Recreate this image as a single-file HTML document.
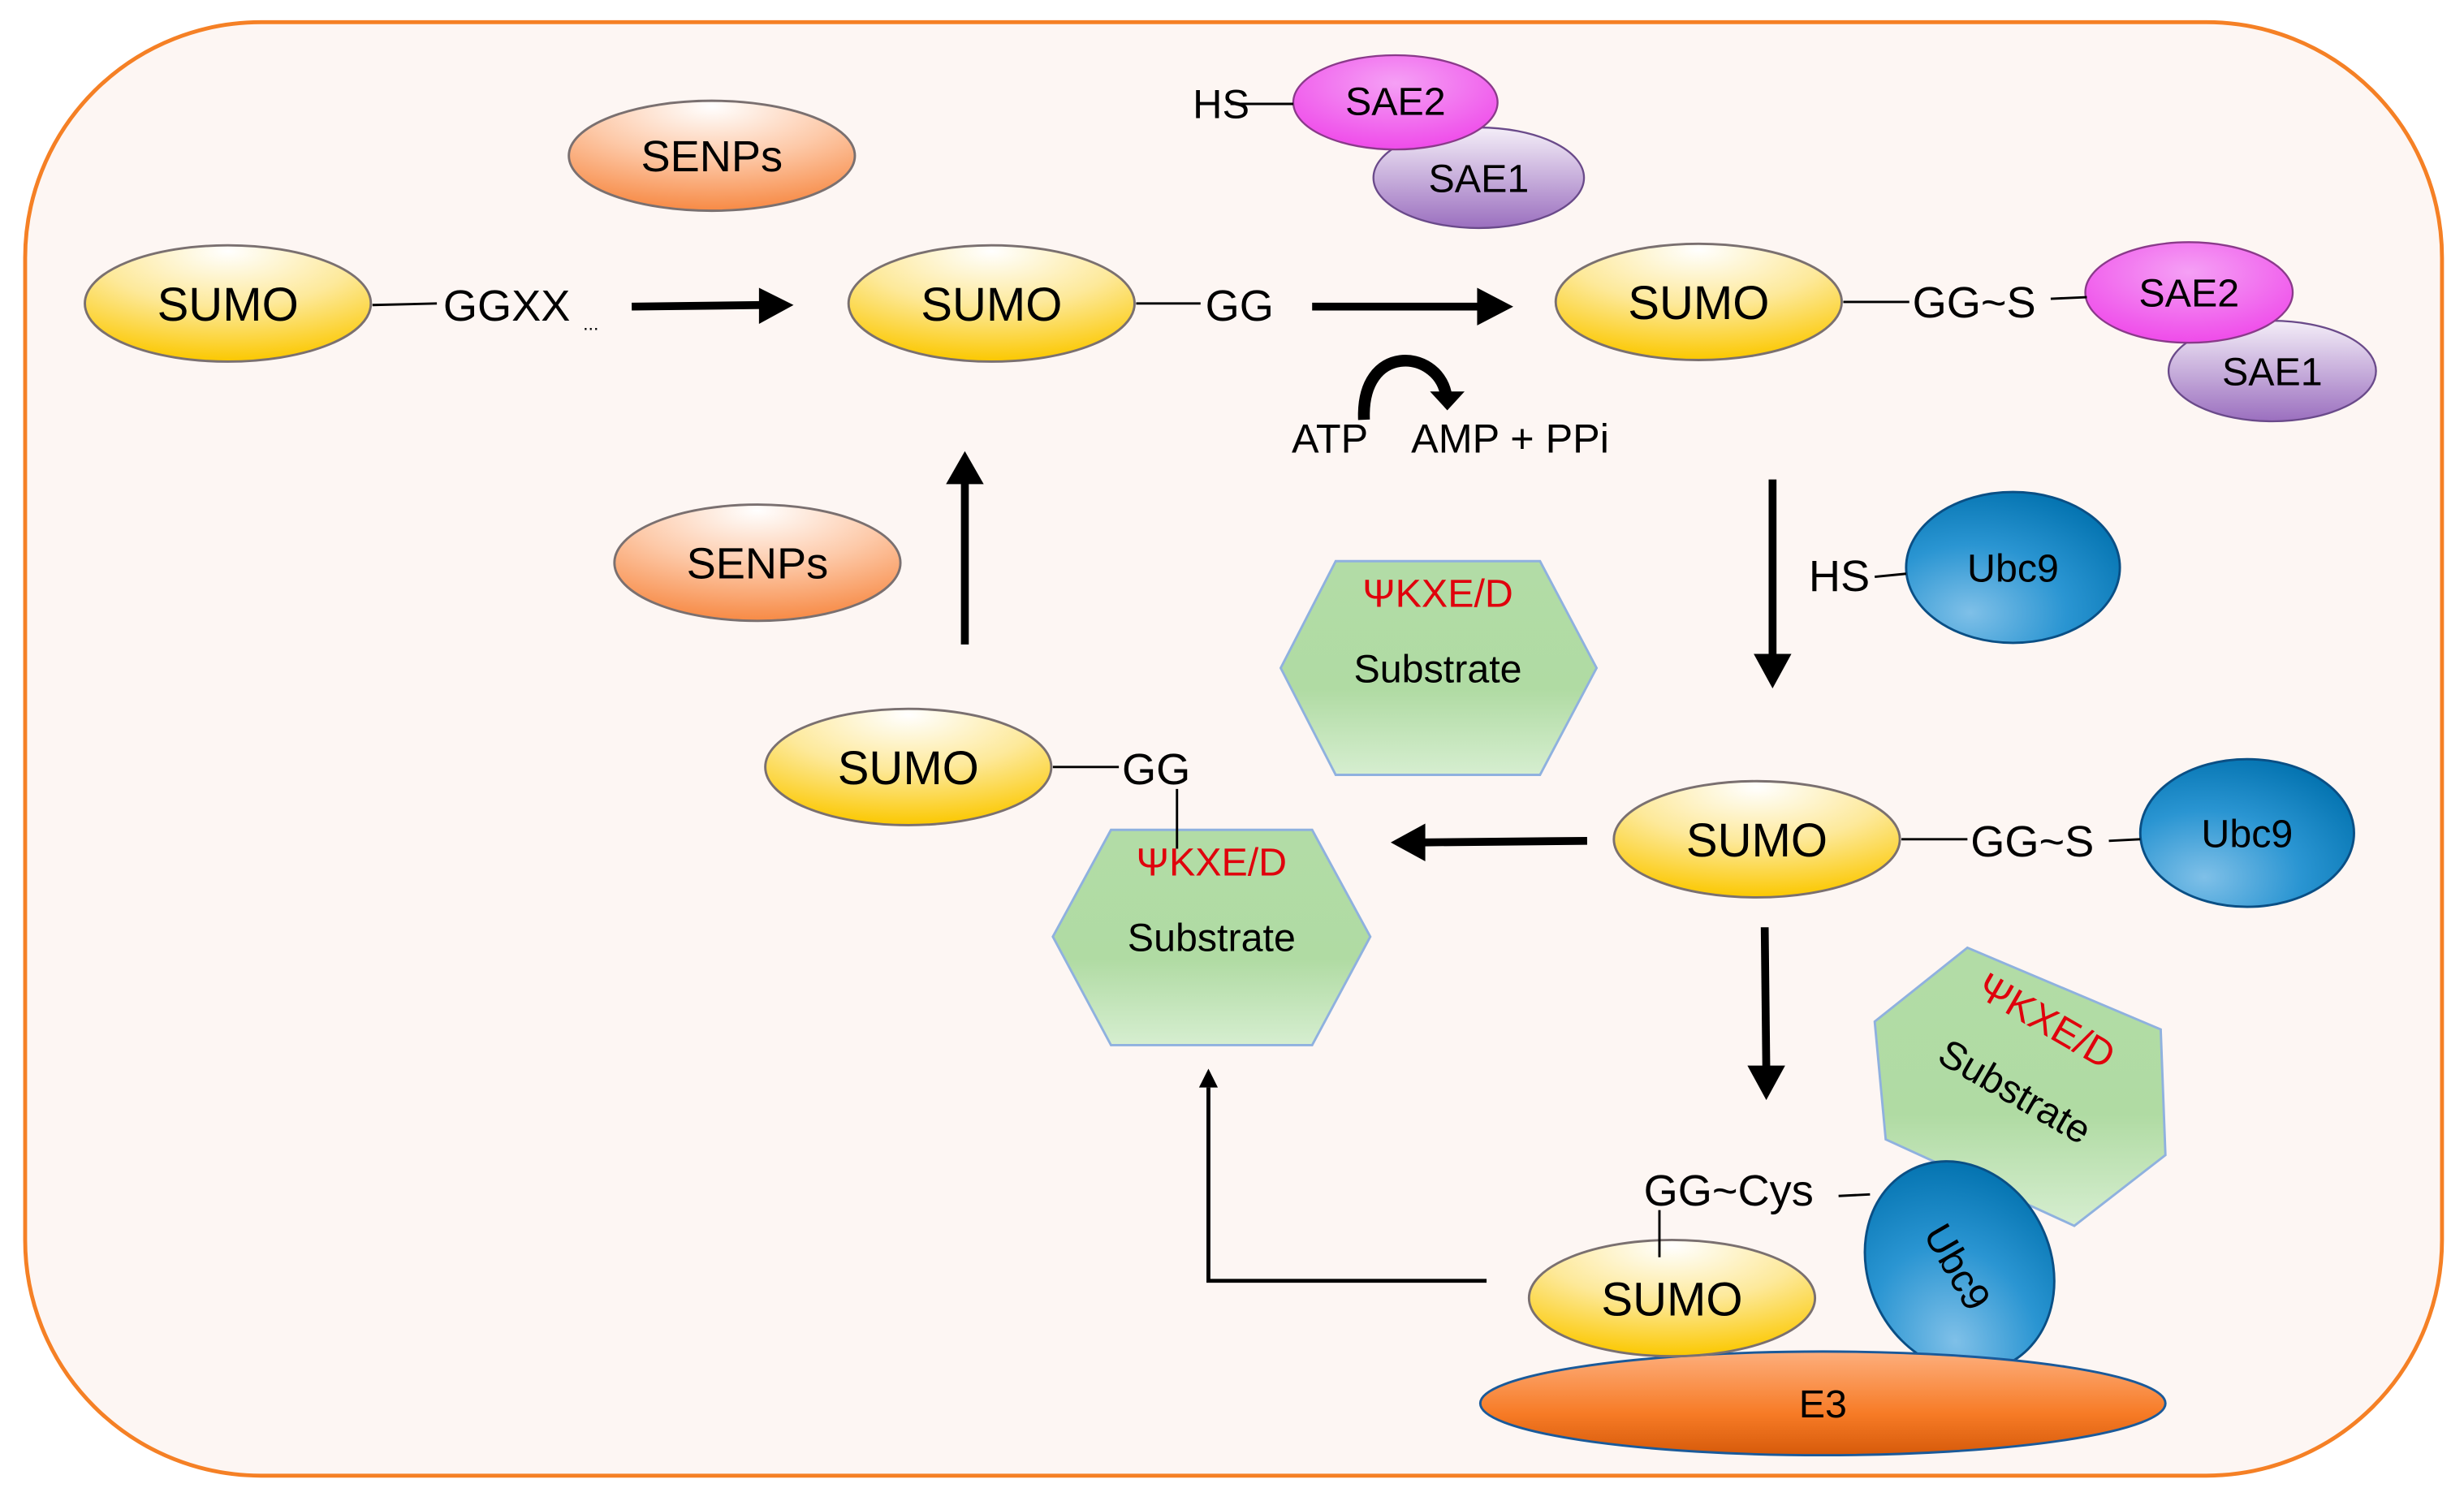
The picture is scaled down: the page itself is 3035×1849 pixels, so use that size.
<!DOCTYPE html>
<html><head><meta charset="utf-8"><style>html,body{margin:0;padding:0;background:#fff}svg{display:block}</style></head><body>
<svg width="3035" height="1849" viewBox="0 0 1568 955" xmlns="http://www.w3.org/2000/svg" font-family="'Liberation Sans', sans-serif">
<defs>
<radialGradient id="sumo" cx="0.5" cy="0.1" r="0.9" fx="0.5" fy="0.05"><stop offset="0" stop-color="#ffffff"/><stop offset="0.5" stop-color="#fde99a"/><stop offset="1" stop-color="#fbc800"/></radialGradient>
<radialGradient id="senp" cx="0.5" cy="0.1" r="0.9" fx="0.5" fy="0.05"><stop offset="0" stop-color="#ffffff"/><stop offset="0.5" stop-color="#fdc9a8"/><stop offset="1" stop-color="#f78a45"/></radialGradient>
<radialGradient id="sae2" cx="0.5" cy="0.3" r="0.8"><stop offset="0" stop-color="#f5a0f5"/><stop offset="1" stop-color="#ee3fe8"/></radialGradient>
<linearGradient id="sae1" x1="0" y1="0" x2="0" y2="1"><stop offset="0" stop-color="#f4eef8"/><stop offset="1" stop-color="#9b6fbf"/></linearGradient>
<radialGradient id="ubc" cx="0.3" cy="0.8" r="0.9"><stop offset="0" stop-color="#7fc0e8"/><stop offset="0.5" stop-color="#2a95d2"/><stop offset="1" stop-color="#0070ad"/></radialGradient>
<linearGradient id="hex" x1="0" y1="0" x2="0" y2="1"><stop offset="0" stop-color="#b2dca6"/><stop offset="0.6" stop-color="#b0dba3"/><stop offset="1" stop-color="#d6eed0"/></linearGradient>
<linearGradient id="e3" x1="0" y1="0" x2="0" y2="1"><stop offset="0" stop-color="#fdae7c"/><stop offset="0.6" stop-color="#f77b26"/><stop offset="1" stop-color="#d65a0a"/></linearGradient>
</defs>
<rect x="16" y="14" width="1538" height="925" rx="150" ry="150" fill="#fdf6f3" stroke="#f58025" stroke-width="2.5"/>
<g stroke="#7a7070" stroke-width="1.5">
<ellipse cx="453" cy="99" rx="91" ry="35" fill="url(#senp)"/>
<ellipse cx="482" cy="358" rx="91" ry="37" fill="url(#senp)"/>
<ellipse cx="145" cy="193" rx="91" ry="37" fill="url(#sumo)"/>
<ellipse cx="631" cy="193" rx="91" ry="37" fill="url(#sumo)"/>
<ellipse cx="1081" cy="192" rx="91" ry="37" fill="url(#sumo)"/>
<ellipse cx="578" cy="488" rx="91" ry="37" fill="url(#sumo)"/>
<ellipse cx="1118" cy="534" rx="91" ry="37" fill="url(#sumo)"/>
</g>
<g stroke="#6a4a8a" stroke-width="1.2">
<ellipse cx="941" cy="113" rx="67" ry="32" fill="url(#sae1)"/>
<ellipse cx="888" cy="65" rx="65" ry="30" fill="url(#sae2)" stroke="#8a3a8a"/>
<ellipse cx="1446" cy="236" rx="66" ry="32" fill="url(#sae1)"/>
<ellipse cx="1393" cy="186" rx="66" ry="32" fill="url(#sae2)" stroke="#8a3a8a"/>
</g>
<g stroke="#0a4f85" stroke-width="1.5" fill="url(#ubc)">
<ellipse cx="1281" cy="361" rx="68" ry="48"/>
<ellipse cx="1430" cy="530" rx="68" ry="47"/>
</g>
<g fill="url(#hex)" stroke="#8fb1df" stroke-width="1.5">
<polygon points="815,425 850,357 980,357 1016,425 980,493 850,493"/>
<polygon points="670,596 707,528 835,528 872,596 835,665 707,665"/>
<polygon points="1252,603 1375,655 1378,735 1320,780 1200,725 1193,650"/>
</g>
<ellipse cx="1247" cy="806" rx="58" ry="69" transform="rotate(-26 1247 806)" fill="url(#ubc)" stroke="#0a4f85" stroke-width="1.5"/>
<ellipse cx="1160" cy="893" rx="218" ry="33" fill="url(#e3)" stroke="#1a5a9a" stroke-width="1.5"/>
<ellipse cx="1064" cy="826" rx="91" ry="37" fill="url(#sumo)" stroke="#7a7070" stroke-width="1.5"/>
<g stroke="#000" stroke-width="1.5">
<line x1="237" y1="194" x2="278" y2="193"/>
<line x1="723" y1="193" x2="764" y2="193"/>
<line x1="1173" y1="192" x2="1215" y2="192"/>
<line x1="1305" y1="190" x2="1328" y2="189"/>
<line x1="783" y1="66" x2="823" y2="66"/>
<line x1="1193" y1="367" x2="1213" y2="365"/>
<line x1="670" y1="488" x2="712" y2="488"/>
<line x1="749" y1="502" x2="749" y2="540"/>
<line x1="1210" y1="534" x2="1252" y2="534"/>
<line x1="1342" y1="535" x2="1362" y2="534"/>
<line x1="1056" y1="770" x2="1056" y2="800"/>
<line x1="1170" y1="761" x2="1190" y2="760"/>
</g>
<g stroke="#000" stroke-width="5" fill="none">
<line x1="402" y1="195" x2="485" y2="194"/>
<line x1="835" y1="195" x2="942" y2="195"/>
<line x1="1128" y1="305" x2="1128" y2="418"/>
<line x1="614" y1="410" x2="614" y2="305"/>
<line x1="1010" y1="535" x2="905" y2="536"/>
<line x1="1123" y1="590" x2="1124" y2="680"/>
<path d="M868,267 C866,218 914,222 920,250" stroke-width="7.5"/>
</g>
<g stroke="#000" stroke-width="2.5" fill="none"><polyline points="946,815 769,815 769,692"/></g>
<g fill="#000">
<polygon points="483,183 505,194 483,206"/>
<polygon points="940,183 963,195 940,207"/>
<polygon points="1116,416 1128,438 1140,416"/>
<polygon points="602,308 614,287 626,308"/>
<polygon points="907,524 885,536 907,548"/>
<polygon points="1112,678 1124,700 1136,678"/>
<polygon points="910,249 932,249 921,261"/>
<polygon points="763,692 769,680 775,692"/>
</g>
<g font-size="30" fill="#000" text-anchor="middle">
<text x="145" y="204">SUMO</text>
<text x="631" y="204">SUMO</text>
<text x="1081" y="203">SUMO</text>
<text x="578" y="499">SUMO</text>
<text x="1118" y="545">SUMO</text>
<text x="1064" y="837">SUMO</text>
<text x="453" y="109" font-size="28">SENPs</text>
<text x="482" y="368" font-size="28">SENPs</text>
</g>
<g font-size="28" fill="#000">
<text x="282" y="204">GGXX</text>
<text x="371" y="210" font-size="12">...</text>
<text x="767" y="204">GG</text>
<text x="1217" y="202">GG~S</text>
<text x="714" y="499">GG</text>
<text x="1254" y="545">GG~S</text>
<text x="1046" y="767">GG~Cys</text>
<text x="759" y="75" font-size="26">HS</text>
<text x="1151" y="376" font-size="28">HS</text>
<text x="822" y="288" font-size="26">ATP</text>
<text x="898" y="288" font-size="26">AMP + PPi</text>
</g>
<g font-size="25" fill="#000" text-anchor="middle">
<text x="888" y="73">SAE2</text>
<text x="941" y="122">SAE1</text>
<text x="1393" y="195">SAE2</text>
<text x="1446" y="245">SAE1</text>
<text x="1281" y="370">Ubc9</text>
<text x="1430" y="539">Ubc9</text>
<text x="915" y="434">Substrate</text>
<text x="771" y="605">Substrate</text>
<text x="1160" y="902">E3</text>
<text x="1246" y="815" transform="rotate(60 1246 806)">Ubc9</text>
<text x="1282" y="703" transform="rotate(30 1282 695)">Substrate</text>
</g>
<g font-size="25" fill="#e0000c" text-anchor="middle">
<text x="915" y="386">ΨKXE/D</text>
<text x="771" y="557">ΨKXE/D</text>
<text x="1302" y="658" transform="rotate(30 1302 650)">ΨKXE/D</text>
</g>
</svg>
</body></html>
